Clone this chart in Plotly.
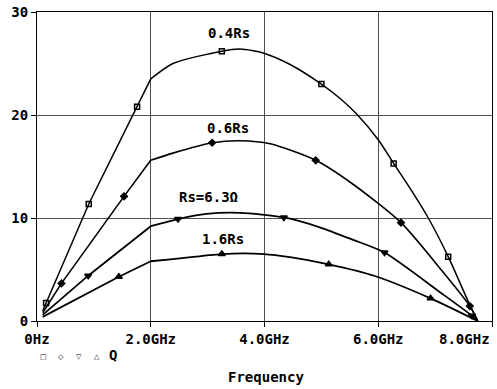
import plotly.graph_objects as go

# ---- data ----
f_04 = [0.1, 0.16, 0.91, 1.76, 2.0, 2.39, 3.25, 3.57, 3.99, 4.45, 5.0, 5.33, 5.62, 6.0, 6.27, 6.58, 6.88, 7.23, 7.61, 7.75]
q_04 = [1.0, 1.75, 11.36, 20.8, 23.5, 25.0, 26.2, 26.4, 26.0, 24.9, 23.0, 21.6, 20.1, 17.6, 15.3, 12.7, 10.0, 6.25, 1.55, 0.0]
f_06 = [0.1, 0.43, 1.53, 2.0, 2.39, 3.08, 3.57, 4.1, 4.9, 5.55, 6.4, 7.11, 7.61, 7.75]
q_06 = [0.8, 3.65, 12.1, 15.6, 16.3, 17.3, 17.5, 17.2, 15.6, 13.3, 9.55, 4.95, 1.45, 0.0]
f_10 = [0.1, 0.9, 2.0, 2.48, 2.98, 3.57, 4.34, 4.97, 5.55, 6.11, 7.11, 7.65, 7.75]
q_10 = [0.6, 4.4, 9.2, 9.9, 10.4, 10.5, 10.05, 9.1, 7.9, 6.65, 2.7, 0.5, 0.0]
f_16 = [0.1, 1.44, 2.0, 2.39, 3.25, 3.99, 4.45, 5.13, 5.94, 6.92, 7.75]
q_16 = [0.4, 4.3, 5.8, 6.0, 6.5, 6.5, 6.2, 5.5, 4.37, 2.2, 0.0]

# marker positions on each trace
mf_04 = [0.16, 0.91, 1.76, 3.25, 5.0, 6.27, 7.23]
mq_04 = [1.75, 11.36, 20.8, 26.2, 23.0, 15.3, 6.25]
mf_06 = [0.43, 1.53, 3.08, 4.9, 6.4, 7.61]
mq_06 = [3.65, 12.1, 17.3, 15.6, 9.55, 1.45]
mf_10 = [0.9, 2.48, 4.34, 6.11, 7.65]
mq_10 = [4.4, 9.9, 10.05, 6.65, 0.5]
mf_16 = [1.44, 3.25, 5.13, 6.92]
mq_16 = [4.3, 6.5, 5.5, 2.2]

labels = ["0.4Rs", "0.6Rs", "Rs=6.3Ω", "1.6Rs"]
label_f = [3.38, 3.35, 3.02, 3.27]
label_q = [28.0, 18.7, 12.0, 8.0]

x_tickvals = [0, 2, 4, 6, 8]
x_ticktext = ["0Hz", "2.0GHz", "4.0GHz", "6.0GHz", ""]
last_x_label = "8.0GHz"
y_tickvals = [0, 10, 20, 30]
legend_syms = ["□", "◇", "▽", "△"]
KINK = 2.0  # sweep becomes dense above this frequency

FONT = "DejaVu Sans Mono"
BFONT = dict(family=FONT, size=14, color="black", weight="bold")

W, H = 497, 389
PLOT_L, PLOT_R, PLOT_T, PLOT_B = 37, 492, 12, 321
PW, PH = PLOT_R - PLOT_L, PLOT_B - PLOT_T


def px_x(px):
    return (px - PLOT_L) / PW


def px_y(py):
    return (PLOT_B - py) / PH


fig = go.Figure()
curves = [(f_04, q_04, mf_04, mq_04, "square-open", 5, 1.5),
          (f_06, q_06, mf_06, mq_06, "diamond", 5, 1.6),
          (f_10, q_10, mf_10, mq_10, "triangle-down", 6, 1.8),
          (f_16, q_16, mf_16, mq_16, "triangle-up", 6, 1.8)]
for fx, qy, mfx, mqy, sym, msz, lw in curves:
    k = fx.index(KINK)
    fig.add_trace(go.Scatter(x=fx[:k + 1], y=qy[:k + 1], mode="lines",
                             line=dict(color="black", width=lw), hoverinfo="skip"))
    fig.add_trace(go.Scatter(x=fx[k:], y=qy[k:], mode="lines",
                             line=dict(color="black", width=lw, shape="spline", smoothing=0.7),
                             hoverinfo="skip"))
    fig.add_trace(go.Scatter(x=mfx, y=mqy, mode="markers",
                             marker=dict(symbol=sym, size=msz, color="black",
                                         line=dict(color="black", width=1.5)),
                             hoverinfo="skip"))

for t, fx, qy in zip(labels, label_f, label_q):
    fig.add_annotation(x=fx, y=qy, text=t, showarrow=False, font=BFONT)

# right-aligned last x tick label
fig.add_annotation(x=1.0, xref="paper", y=px_y(339), yref="paper",
                   text=last_x_label, showarrow=False, xanchor="right", yanchor="middle",
                   font=BFONT)

# legend row
leg_x_px = [43, 61, 79, 97]
for s, px in zip(legend_syms, leg_x_px):
    fig.add_annotation(x=px_x(px), xref="paper", y=px_y(357), yref="paper",
                       text=s, showarrow=False, xanchor="center", yanchor="middle",
                       font=dict(family="DejaVu Sans", size=7, color="black"))
fig.add_annotation(x=px_x(113), xref="paper", y=px_y(355), yref="paper",
                   text="Q", showarrow=False, xanchor="center", yanchor="middle", font=BFONT)
fig.add_annotation(x=px_x(266), xref="paper", y=px_y(377), yref="paper",
                   text="Frequency", showarrow=False, xanchor="center", yanchor="middle",
                   font=BFONT)

axis_common = dict(showgrid=True, gridcolor="#505050", gridwidth=1,
                   showline=True, linecolor="black", linewidth=1, mirror=True,
                   ticks="outside", ticklen=5, tickcolor="black",
                   tickfont=BFONT, zeroline=False, automargin=False,
                   ticklabeloverflow="allow")
fig.update_xaxes(range=[0, 8], tickvals=x_tickvals, ticktext=x_ticktext, **axis_common)
fig.update_yaxes(range=[0, 30], tickvals=y_tickvals, **axis_common)
fig.update_layout(width=W, height=H,
                  margin=dict(l=PLOT_L, r=W - PLOT_R, t=PLOT_T, b=H - PLOT_B, autoexpand=False),
                  plot_bgcolor="white", paper_bgcolor="white", showlegend=False)

fig.write_html("out.html", config={"displayModeBar": False},
               post_script="document.body.style.margin='0';document.body.style.overflow='hidden';")
